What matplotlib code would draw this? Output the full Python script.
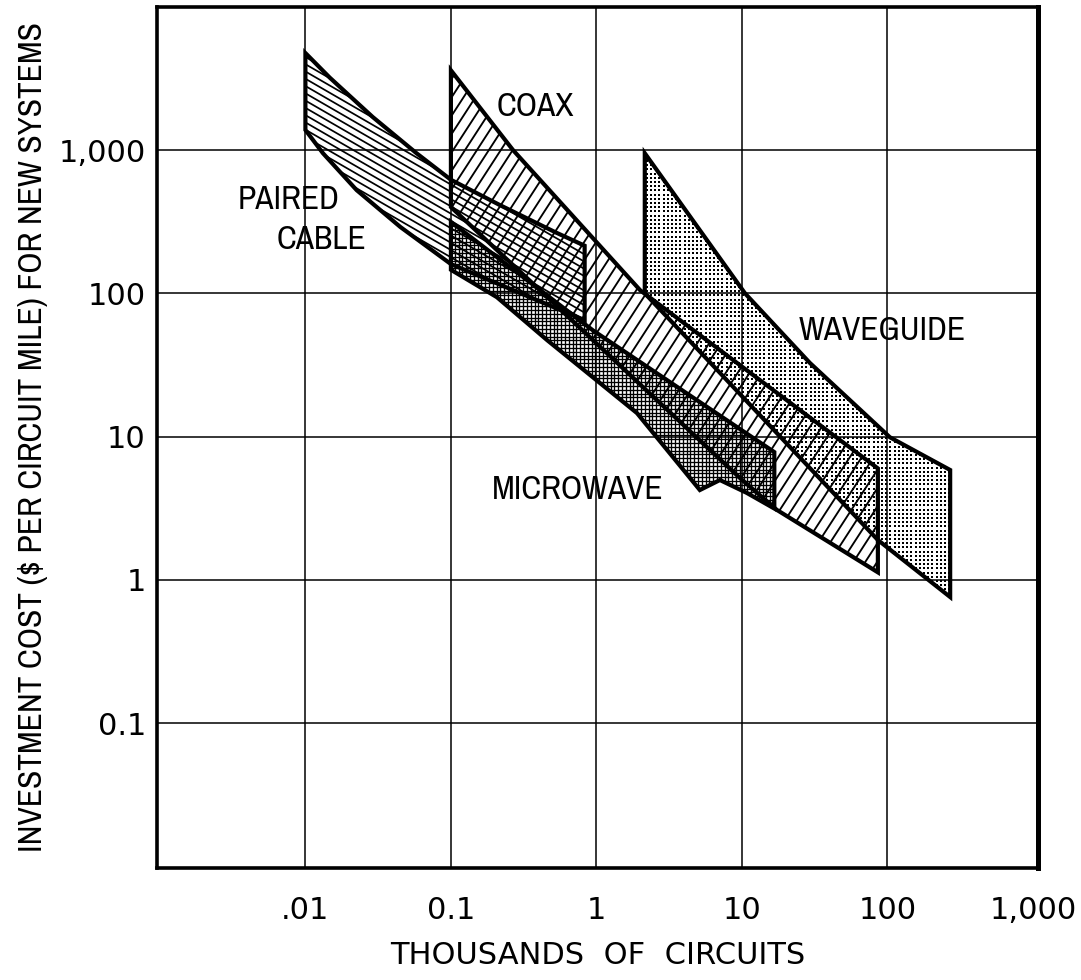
import numpy as np
import matplotlib
matplotlib.use("Agg")
import matplotlib.pyplot as plt
from matplotlib import font_manager
from matplotlib.patches import Polygon
from matplotlib.collections import LineCollection
from matplotlib.ticker import NullLocator

plt.rcParams["font.family"] = ["DejaVu Sans"]

# ------------------------------------------------------------------#
# Region outlines
# x = thousands of circuits, y = $ per circuit mile
paired_x = [0.01, 0.0147, 0.029, 0.058, 0.10, 0.22, 0.53, 0.83, 0.83, 0.10, 0.045, 0.0225, 0.0132, 0.01]
paired_y = [4750, 3200, 1700, 950, 620, 410, 265, 215, 65, 160, 290, 525, 950, 1380]

coax_x = [0.1, 0.267, 2.0, 13.3, 86, 86, 17.4, 9.7, 0.95, 0.41, 0.1]
coax_y = [3600, 1000, 105, 24.8, 6.0, 1.13, 3.08, 5.14, 47, 105, 400]

micro_x = [0.1, 0.95, 16.7, 16.7, 10.8, 7.06, 5.14, 1.9, 0.46, 0.207, 0.1]
micro_y = [315, 55, 7.8, 3.15, 4.05, 4.98, 4.24, 14.6, 47, 94, 146]

wave_x = [2.15, 10.5, 29.3, 104, 270, 270, 86, 2.15]
wave_y = [950, 100, 32.7, 9.9, 5.85, 0.76, 1.9, 100]

x_ticks = [0.01, 0.1, 1, 10, 100, 1000]
x_labels = [".01", "0.1", "1", "10", "100", "1,000"]
y_ticks = [0.1, 1, 10, 100, 1000]
y_labels = ["0.1", "1", "10", "100", "1,000"]


def narrow_font():
    """Pick a condensed/narrow face if one is installed."""
    for f in font_manager.fontManager.ttflist:
        nm = f.name.lower()
        if ("condensed" in nm or "narrow" in nm) and f.style == "normal":
            return dict(family=[f.name, "DejaVu Sans"], stretch=f.stretch), 24
    for f in font_manager.fontManager.ttflist:
        if str(f.stretch) in ("condensed", "semi-condensed") and f.style == "normal":
            return dict(family=[f.name, "DejaVu Sans"], stretch=f.stretch), 24
    return dict(family=["DejaVu Sans"]), 19.5


NARROW, NARROW_SIZE = narrow_font()

W, H = 1081, 980
fig = plt.figure(figsize=(W / 100, H / 100), dpi=100)
ax = fig.add_axes([157 / W, 1 - 868 / H, (1038 - 157) / W, (868 - 7) / H])
ax.set_xscale("log")
ax.set_yscale("log")
XLIM = (10 ** -3.02, 10 ** 3.035)
YLIM = (10 ** -2.01, 10 ** 3.998)
ax.set_xlim(*XLIM)
ax.set_ylim(*YLIM)


def clip_region(xs, ys):
    """Invisible patch used to clip the hand-made hatching."""
    p = Polygon(np.column_stack([xs, ys]), closed=True, facecolor="none",
                edgecolor="none", zorder=2)
    ax.add_patch(p)
    return p


def region_extent(patch):
    return patch.get_path().transformed(patch.get_transform()).get_extents()


def fill_lines(patch, angle, spacing, lw):
    ext = region_extent(patch)
    cx, cy = (ext.x0 + ext.x1) / 2, (ext.y0 + ext.y1) / 2
    L = np.hypot(ext.width, ext.height) + 20
    t = np.radians(angle)
    d = np.array([np.cos(t), np.sin(t)])
    n = np.array([-np.sin(t), np.cos(t)])
    segs = []
    for o in np.arange(-L / 2, L / 2, spacing):
        c = np.array([cx, cy]) + o * n
        a, b = c - L * d, c + L * d
        segs.append([(a[0] / W, a[1] / H), (b[0] / W, b[1] / H)])
    lc = LineCollection(segs, colors="k", linewidths=lw,
                        transform=fig.transFigure, zorder=2)
    ax.add_collection(lc, autolim=False)
    lc.set_clip_path(patch)


def fill_dots(patch, spacing, size):
    ext = region_extent(patch)
    gx = np.arange(np.floor(ext.x0 / spacing) * spacing, ext.x1 + spacing, spacing)
    gy = np.arange(np.floor(ext.y0 / spacing) * spacing, ext.y1 + spacing, spacing)
    px, py = np.meshgrid(gx, gy)
    sc = ax.scatter(px.ravel() / W, py.ravel() / H, s=size, marker="s", c="k",
                    linewidths=0, transform=fig.transFigure, zorder=2)
    sc.set_clip_path(patch)


def outline(xs, ys):
    ax.add_patch(Polygon(np.column_stack([xs, ys]), closed=True, facecolor="none",
                         edgecolor="k", lw=3.0, joinstyle="miter", zorder=3))


# waveguide: fine dots
wg = clip_region(wave_x, wave_y)
fill_dots(wg, 4.2, 1.1)

# coax: steep diagonal lines
cx_patch = clip_region(coax_x, coax_y)
fill_lines(cx_patch, 57, 10, 1.35)

# paired cable: shallow descending lines
pc = clip_region(paired_x, paired_y)
fill_lines(pc, -30, 6.3, 1.25)

# microwave: fine cross-hatch
mw = clip_region(micro_x, micro_y)
fill_lines(mw, 0, 3.8, 0.95)
fill_lines(mw, 90, 3.8, 0.95)

for xs, ys in [(wave_x, wave_y), (coax_x, coax_y), (paired_x, paired_y), (micro_x, micro_y)]:
    outline(xs, ys)

# grid + axes
for gx in [0.01, 0.1, 1, 10, 100]:
    ax.axvline(gx, color="k", lw=1.1, zorder=1)
for gy in [0.1, 1, 10, 100, 1000]:
    ax.axhline(gy, color="k", lw=1.1, zorder=1)

ax.set_xticks(x_ticks)
ax.set_xticklabels(x_labels)
ax.set_yticks(y_ticks)
ax.set_yticklabels(y_labels)
ax.xaxis.set_minor_locator(NullLocator())
ax.yaxis.set_minor_locator(NullLocator())
ax.tick_params(length=0, labelsize=22)
ax.tick_params(axis="x", pad=20)
ax.tick_params(axis="y", pad=8)
for s in ax.spines.values():
    s.set_linewidth(2.6)
ax.spines["right"].set_linewidth(3.6)

ax.set_xlabel("THOUSANDS  OF  CIRCUITS", fontsize=22, labelpad=12)
ax.set_ylabel("INVESTMENT COST ($ PER CIRCUIT MILE) FOR NEW SYSTEMS",
              fontsize=NARROW_SIZE, labelpad=8, **NARROW)

label_kw = dict(fontsize=NARROW_SIZE, ha="center", va="center", zorder=4, **NARROW)
ax.text(0.38, 2000, "COAX", **label_kw)
ax.text(0.0076, 448, "PAIRED", **label_kw)
ax.text(0.013, 236, "CABLE", **label_kw)
ax.text(91.6, 54.6, "WAVEGUIDE", **label_kw)
ax.text(0.746, 4.24, "MICROWAVE", **label_kw)

ax.set_xlim(*XLIM)
ax.set_ylim(*YLIM)
fig.savefig("out.png", dpi=100)
